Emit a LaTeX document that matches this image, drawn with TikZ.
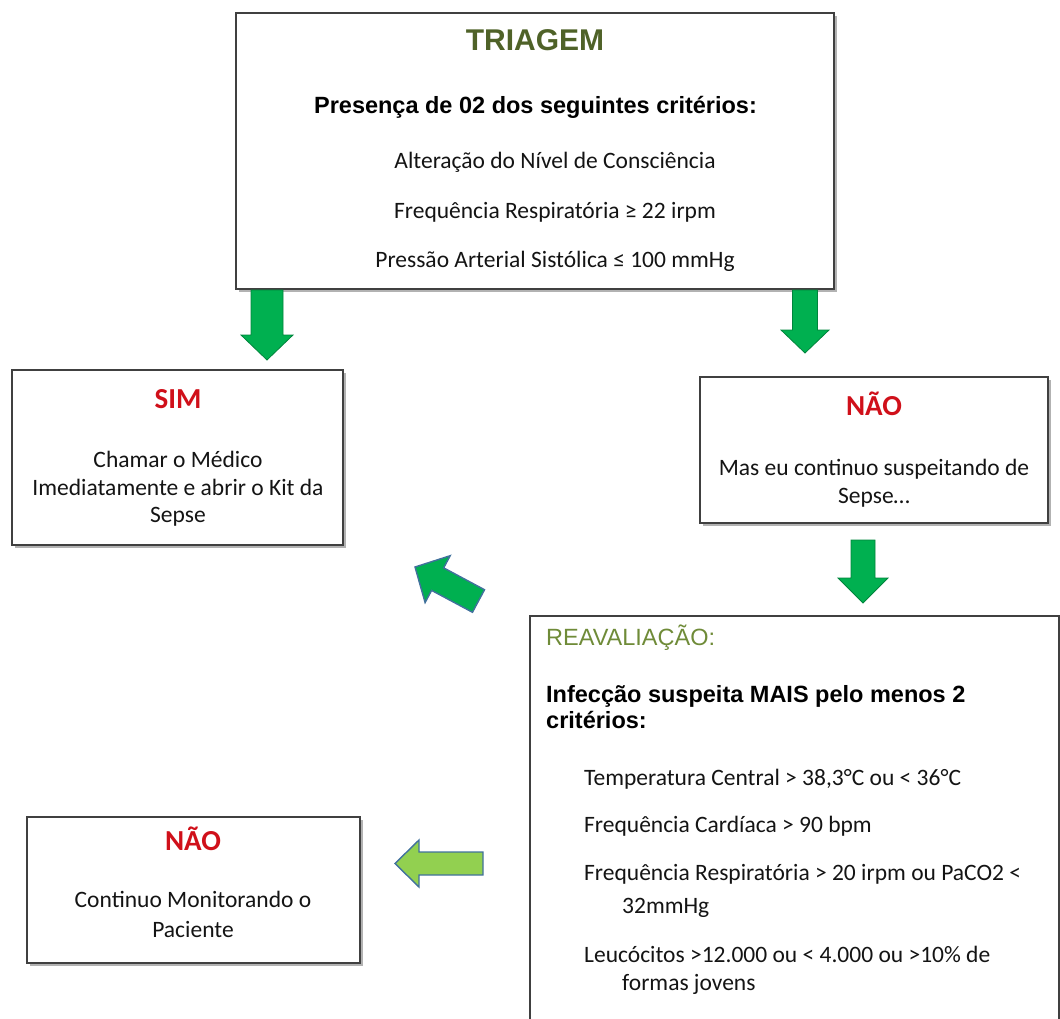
\documentclass[tikz,border=0pt]{standalone}
\usepackage{fontspec}
\setmainfont{Carlito}
\newfontfamily\arialfont{Liberation Sans}
\usetikzlibrary{calc,shadows}

\definecolor{olivedark}{HTML}{4F6228}
\definecolor{olivelight}{HTML}{6F8B38}
\definecolor{alertred}{HTML}{D0101A}
\definecolor{arrowgreen}{HTML}{00B050}
\definecolor{arrowlime}{HTML}{92D050}
\definecolor{arrowedge}{HTML}{41719C}
\definecolor{boxedge}{HTML}{404040}

\tikzset{
  box/.style={rectangle, draw=boxedge, line width=1.6pt, fill=white, inner sep=0pt,
    drop shadow={shadow xshift=2.5pt, shadow yshift=-2.5pt, opacity=0.3, fill=black}},
  body/.style={inner sep=0pt, text=black!92, font=\fontsize{23.5}{28}\selectfont},
  head/.style={inner sep=0pt, text=black, font=\arialfont\bfseries\fontsize{23.5}{28}\selectfont},
  answer/.style={inner sep=0pt, text=alertred, font=\bfseries\fontsize{29}{34}\selectfont},
  greenarrow/.style={fill=arrowgreen, draw=arrowgreen!75!black, line width=0.8pt, line join=miter},
  bluearrow/.style={draw=arrowedge, line width=1.4pt, line join=miter}
}

% block arrow: style, tail, tip, half shaft, half head, head length
\newcommand{\blockarrow}[6]{%
  \draw[#1] ($(#2)!#4!90:(#3)$) -- ($(#3)!#6!(#2)!#4!90:(#3)$)
    -- ($(#3)!#6!(#2)!#5!90:(#3)$) -- (#3)
    -- ($(#3)!#6!(#2)!#5!-90:(#3)$) -- ($(#3)!#6!(#2)!#4!-90:(#3)$)
    -- ($(#2)!#4!-90:(#3)$) -- cycle;}

\begin{document}
\begin{tikzpicture}[x=1pt,y=-1pt]
\useasboundingbox (0,0) rectangle (1060,1018);
\clip (0,0) rectangle (1060,1018);

% boxes
\node[box, minimum width=598pt, minimum height=276pt] (triagem) at (535,151) {};
\node[box, minimum width=331pt, minimum height=175pt] (sim) at (177.5,457.5) {};
\node[box, minimum width=348pt, minimum height=146pt] (nao) at (874,450) {};
\node[box, minimum width=529pt, minimum height=460pt, anchor=north west] (reav) at (529,615) {};
\node[box, minimum width=333pt, minimum height=146pt] (monit) at (193.5,890) {};

% triagem
\node[head, text=olivedark, font=\arialfont\bfseries\fontsize{30}{34}\selectfont, anchor=base] (tri0) at (535,50) {TRIAGEM};
\node[head, anchor=base] (tri1) at (535.5,113) {Presença de 02 dos seguintes critérios:};
\node[body, anchor=base] (tri2) at (555,168) {Alteração do Nível de Consciência};
\node[body, anchor=base] (tri3) at (555,218) {Frequência Respiratória ≥ 22 irpm};
\node[body, anchor=base] (tri4) at (555,267) {Pressão Arterial Sistólica ≤ 100 mmHg};

% sim
\node[answer, anchor=base] (sim0) at (178,408) {SIM};
\node[body, anchor=base] (sim1) at (178,467) {Chamar o Médico};
\node[body, anchor=base] (sim2) at (178,495) {Imediatamente e abrir o Kit da};
\node[body, anchor=base] (sim3) at (178,522) {Sepse};

% nao (direita)
\node[answer, anchor=base] (nao0) at (874,415) {NÃO};
\node[body, anchor=base] (nao1) at (874,475) {Mas eu continuo suspeitando de};
\node[body, anchor=base] (nao2) at (874,503) {Sepse…};

% reavaliacao
\node[head, text=olivelight, font=\arialfont\fontsize{23.5}{28}\selectfont, anchor=base west] (rea0) at (546,645) {REAVALIAÇÃO:};
\node[head, anchor=base west] (rea1) at (546,702) {Infecção suspeita MAIS pelo menos 2};
\node[head, anchor=base west] (rea2) at (546,728) {critérios:};
\node[body, anchor=base west] (rea3) at (584,785) {Temperatura Central > 38,3°C ou < 36°C};
\node[body, anchor=base west] (rea4) at (584,832) {Frequência Cardíaca > 90 bpm};
\node[body, anchor=base west] (rea5) at (584,880) {Frequência Respiratória > 20 irpm ou PaCO2 <};
\node[body, anchor=base west] (rea6) at (622,913) {32mmHg};
\node[body, anchor=base west] (rea7) at (584,962) {Leucócitos >12.000 ou < 4.000 ou >10\% de};
\node[body, anchor=base west] (rea8) at (622,990) {formas jovens};

% nao (esquerda)
\node[answer, anchor=base] (mon0) at (193,850) {NÃO};
\node[body, anchor=base] (mon1) at (193,907) {Continuo Monitorando o};
\node[body, anchor=base] (mon2) at (193,937) {Paciente};

% arrows
\coordinate (simtail) at (267,290);   \coordinate (simtip) at (267,360);
\coordinate (naotail) at (805,290);   \coordinate (naotip) at (805,353);
\coordinate (reavtail) at (863,540);  \coordinate (reavtip) at (863,603);
\coordinate (backtail) at (478.5,601); \coordinate (backtip) at (415,567);
\coordinate (montail) at (483,863.5); \coordinate (montip) at (395,863.5);

\blockarrow{greenarrow}{simtail}{simtip}{16pt}{26pt}{25pt}
\blockarrow{greenarrow}{naotail}{naotip}{12.5pt}{24pt}{23pt}
\blockarrow{greenarrow}{reavtail}{reavtip}{12pt}{25pt}{25pt}
\blockarrow{bluearrow, fill=arrowgreen}{backtail}{backtip}{12.8pt}{26.6pt}{25.7pt}
\blockarrow{bluearrow, fill=arrowlime}{montail}{montip}{11.5pt}{23.5pt}{24pt}
\end{tikzpicture}
\end{document}
